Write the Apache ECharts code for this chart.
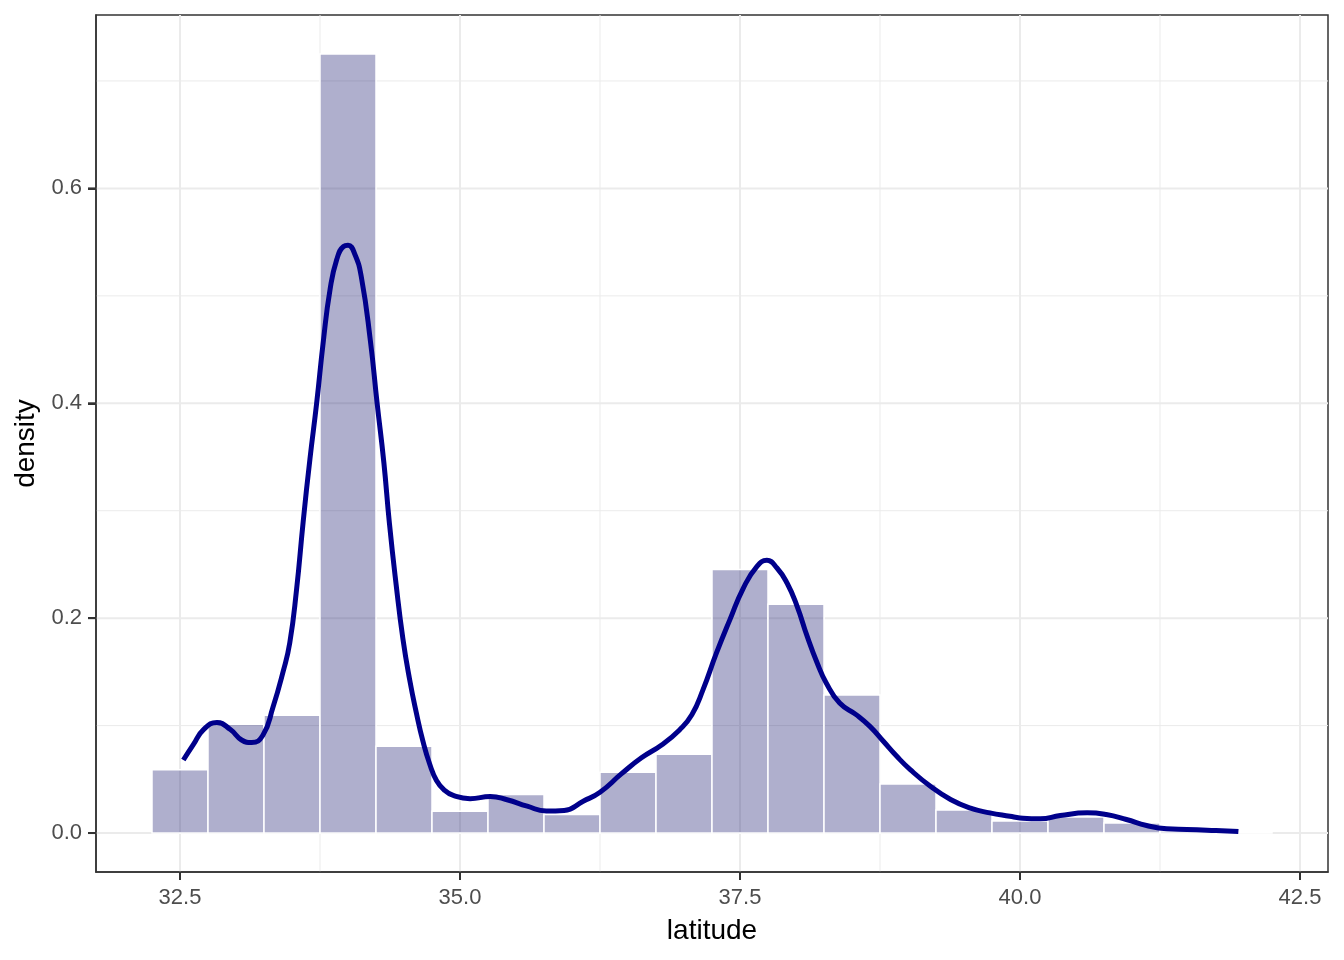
<!DOCTYPE html>
<html>
<head>
<meta charset="utf-8">
<script src="https://cdn.jsdelivr.net/npm/echarts@6/dist/echarts.min.js"></script>
<style>
html,body{margin:0;padding:0;background:#fff;}
#chart{width:1344px;height:960px;}
</style>
</head>
<body>
<div id="chart"></div>
<script>
// Histogram bins (centres) and density heights
const binCenters = [32.5,33.0,33.5,34.0,34.5,35.0,35.5,36.0,36.5,37.0,37.5,38.0,38.5,39.0,39.5,40.0,40.5,41.0,41.5,42.0];
const binHeights = [0.0588,0.1012,0.1096,0.7251,0.0807,0.0203,0.0358,0.0172,0.0565,0.0733,0.2454,0.2129,0.1286,0.0456,0.0214,0.0112,0.0150,0.0093,0.0020,0.0010];
const binWidth = 0.5;

// Kernel density curve
const densX = [32.53,32.62,32.71,32.83,32.95,33.05,33.14,33.24,33.33,33.42,33.48,33.54,33.60,33.66,33.72,33.78,33.84,33.90,33.96,34.00,34.06,34.12,34.20,34.26,34.32,34.37,34.43,34.49,34.55,34.61,34.67,34.73,34.79,34.86,34.94,35.09,35.27,35.42,35.60,35.77,35.93,36.10,36.25,36.44,36.62,36.80,36.96,37.07,37.17,37.29,37.41,37.53,37.65,37.74,37.83,37.92,38.01,38.10,38.19,38.27,38.39,38.54,38.66,38.78,38.90,39.02,39.20,39.38,39.55,39.73,39.91,40.00,40.18,40.36,40.60,40.77,40.95,41.13,41.31,41.49,41.67,41.85,41.95];
const densY = [0.068,0.0825,0.0963,0.103,0.0963,0.0866,0.0842,0.091,0.117,0.150,0.177,0.226,0.290,0.348,0.400,0.458,0.506,0.534,0.546,0.547,0.539,0.517,0.458,0.400,0.345,0.288,0.231,0.181,0.143,0.112,0.085,0.064,0.049,0.040,0.035,0.032,0.034,0.031,0.025,0.0205,0.021,0.0296,0.038,0.055,0.070,0.082,0.096,0.110,0.1335,0.1676,0.1986,0.228,0.248,0.2538,0.2467,0.2327,0.211,0.183,0.158,0.1397,0.121,0.110,0.0993,0.0854,0.0714,0.059,0.0435,0.0312,0.0234,0.0188,0.0156,0.0141,0.0132,0.0163,0.0188,0.0172,0.0126,0.007,0.0039,0.0033,0.0026,0.002,0.0014];

// Axis ticks and grid
const xTicks = [32.5,35.0,37.5,40.0,42.5];
const xMinor = [33.75,36.25,38.75,41.25];
const yTicks = [0.0,0.2,0.4,0.6];
const yMinor = [0.1,0.3,0.5,0.7];
const xRange = [31.75,42.75];
const yRange = [-0.03626,0.7614];

const FONT = '"Liberation Sans", Arial, sans-serif';
const TICK_LEN = 8;

const chart = echarts.init(document.getElementById('chart'));

// grid line items: [orientation (0 = vertical, 1 = horizontal), value, isMajor]
const gridItems = [];
xMinor.forEach(v => gridItems.push([0, v, 0]));
yMinor.forEach(v => gridItems.push([1, v, 0]));
xTicks.forEach(v => gridItems.push([0, v, 1]));
yTicks.forEach(v => gridItems.push([1, v, 1]));

const option = {
  animation:false,
  backgroundColor:'#ffffff',
  grid:{left:96,right:16,top:15,bottom:88,show:true,borderColor:'#333333',borderWidth:1.5},
  xAxis:{
    type:'value', min:xRange[0], max:xRange[1],
    name:'latitude', nameLocation:'middle', nameGap:45,
    nameTextStyle:{color:'#000', fontSize:28, fontFamily:FONT},
    axisLine:{show:true, onZero:false, lineStyle:{color:'#333333', width:1.5}},
    splitLine:{show:false},
    axisTick:{show:true, length:TICK_LEN, customValues:xTicks, lineStyle:{color:'#333333', width:2}},
    axisLabel:{customValues:xTicks, margin:15, color:'#4d4d4d', fontSize:22, fontFamily:FONT,
      formatter:v => v.toFixed(1)}
  },
  yAxis:{
    type:'value', min:yRange[0], max:yRange[1],
    name:'density', nameLocation:'middle', nameGap:49, nameRotate:90,
    nameTextStyle:{color:'#000', fontSize:28, fontFamily:FONT},
    axisLine:{show:true, onZero:false, lineStyle:{color:'#333333', width:1.5}},
    splitLine:{show:false},
    axisTick:{show:true, length:TICK_LEN, customValues:yTicks, lineStyle:{color:'#333333', width:2}},
    axisLabel:{customValues:yTicks, margin:14, color:'#4d4d4d', fontSize:22, fontFamily:FONT,
      formatter:v => v.toFixed(1)}
  },
  series:[
    {
      type:'custom', z:0, silent:true, clip:false,
      data: gridItems,
      encode:{x:-1, y:-1},
      renderItem:function(params, api){
        const o = api.value(0), v = api.value(1), major = api.value(2);
        const corner = api.coord([xRange[0], yRange[0]]);
        let p0, p1, tick = null;
        if (o === 0) {
          p0 = api.coord([v, yRange[0]]); p1 = api.coord([v, yRange[1]]);
          if (major) tick = {x1:p0[0], y1:corner[1], x2:p0[0], y2:corner[1] + TICK_LEN};
        } else {
          p0 = api.coord([xRange[0], v]); p1 = api.coord([xRange[1], v]);
          if (major) tick = {x1:corner[0] - TICK_LEN, y1:p0[1], x2:corner[0], y2:p0[1]};
        }
        const children = [{type:'line', shape:{x1:p0[0], y1:p0[1], x2:p1[0], y2:p1[1]},
          style:{stroke:'#ebebeb', lineWidth: major ? 2 : 1}}];
        if (tick) children.push({type:'line', shape:tick, style:{stroke:'#333333', lineWidth:2}});
        return {type:'group', children:children};
      }
    },
    {
      type:'custom', z:2,
      data: binCenters.map((c,i) => [c, binHeights[i]]),
      renderItem:function(params, api){
        const c = api.value(0), h = api.value(1);
        const p0 = api.coord([c - binWidth/2, h]);
        const p1 = api.coord([c + binWidth/2, 0]);
        return {type:'rect', shape:{x:p0[0], y:p0[1], width:p1[0]-p0[0], height:p1[1]-p0[1]},
          style:{fill:'rgba(25,25,112,0.35)', stroke:'#ffffff', lineWidth:1.5}};
      }
    },
    {
      type:'line', z:3,
      data: densX.map((x,i) => [x, densY[i]]),
      showSymbol:false, symbol:'none', smooth:0.5,
      lineStyle:{color:'#00008b', width:5, cap:'butt', join:'round'}
    }
  ]
};
chart.setOption(option);
</script>
</body>
</html>
